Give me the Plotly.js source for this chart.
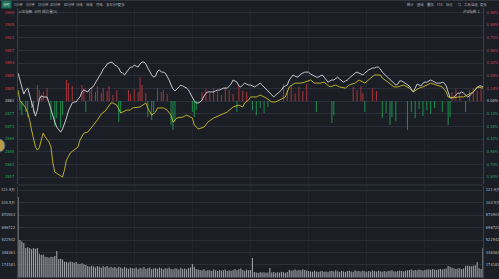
<!DOCTYPE html>
<html><head><meta charset="utf-8">
<script src="https://cdn.plot.ly/plotly-3.0.1.min.js"></script>
<style>html,body{margin:0;padding:0;background:#1b1e25;}#chart{width:499px;height:279px;}</style>
</head><body><div id="chart"></div>
<script>
// ---------- DATA ----------
const prevClose = 2881.0;
const minutes = Array.from({length: 241}, (_, i) => i);
const indexPrice = [
2889.9,2887.7,2885.1,2883.2,2884.5,2885.1,2882.9,2880.7,2878.8,2876.2,
2878.1,2881.6,2882.6,2882.3,2882.3,2882.3,2880.4,2878.1,2875.9,2874.3,
2872.7,2871.8,2871.1,2872.1,2873.7,2875.6,2877.8,2879.1,2880.4,2880.7,
2880.7,2881.6,2882.3,2883.9,2884.5,2884.2,2883.9,2884.8,2885.1,2885.8,
2886.7,2888.0,2888.9,2889.9,2891.2,2891.8,2892.8,2893.1,2893.4,2893.1,
2892.4,2892.1,2891.5,2890.2,2889.9,2889.3,2890.2,2891.2,2891.8,2891.8,
2892.4,2892.1,2891.8,2892.8,2893.4,2893.4,2892.8,2891.5,2890.2,2889.3,
2888.6,2888.9,2890.5,2890.9,2890.2,2890.2,2889.9,2888.9,2887.7,2886.1,
2884.8,2884.2,2884.8,2885.5,2886.1,2885.8,2885.5,2885.1,2884.5,2883.2,
2882.3,2881.0,2880.4,2880.4,2880.7,2881.3,2882.6,2883.5,2883.9,2883.9,
2883.9,2883.9,2884.2,2884.5,2884.5,2884.8,2885.1,2885.1,2885.1,2885.8,
2886.4,2887.7,2887.4,2887.0,2885.8,2885.5,2886.1,2886.7,2886.4,2886.1,
2886.1,
2885.8,2885.5,2885.8,2886.4,2886.7,2886.1,2885.5,2884.8,2884.2,
2883.5,2882.9,2882.3,2882.9,2883.5,2883.9,2884.5,2885.5,2885.8,2886.1,
2887.7,2888.6,2889.3,2888.9,2888.6,2888.9,2889.6,2889.9,2890.2,2890.2,
2890.2,2889.6,2889.3,2888.9,2888.6,2888.6,2888.9,2889.3,2888.6,2887.7,
2887.0,2887.4,2887.7,2887.7,2888.3,2888.6,2888.0,2887.4,2887.0,2887.4,
2887.7,2888.3,2888.9,2889.3,2889.9,2890.2,2889.9,2889.6,2889.3,2889.9,
2890.5,2890.9,2891.2,2891.5,2891.5,2891.8,2891.8,2891.2,2890.2,2889.6,
2888.9,2888.3,2887.7,2887.0,2886.4,2886.1,2886.4,2887.4,2887.4,2887.0,
2886.7,2886.4,2885.8,2884.8,2883.9,2885.1,2886.4,2886.1,2885.8,2886.7,
2887.0,2887.0,2887.4,2887.7,2887.4,2887.0,2886.7,2886.7,2886.7,2887.0,
2886.7,2885.8,2883.5,2882.0,2882.0,2882.3,2882.9,2883.5,2883.5,2883.9,
2883.5,2882.9,2882.3,2882.6,2883.2,2883.9,2884.5,2885.1,2885.8,2885.8,
2885.5];

const avgMin = [0,1,2,4,5,6,7,8,9,10,11,12,13,14,16,17,18,19,21,23,24,25,27,29,31,32,34,36,37,39,41,43,45,46,48,49,51,53,54,56,58,59,63,66,67,69,71,72,75,77,79,80,82,85,87,90,91,93,96,98,101,104,108,111,114,116,117,119,120,123,125,128,131,133,135,138,140,143,146,148,151,153,156,158,161,164,166,169,171,174,176,179,182,184,187,188,191,194,196,199,202,204,207,209,213,216,219,221,222,225,227,230,232,235,237,240];
const avgPrice = [2884.5,2881.0,2880.4,2878.8,2877.2,2875.0,2871.8,2868.6,2866.4,2865.4,2866.1,2868.6,2870.8,2869.6,2868.0,2866.4,2861.3,2858.4,2857.5,2856.8,2859.1,2862.2,2864.5,2865.4,2866.4,2868.6,2870.8,2871.1,2871.8,2873.4,2875.0,2876.9,2877.8,2878.8,2880.4,2880.4,2879.7,2877.2,2877.5,2878.1,2878.1,2878.8,2879.1,2880.4,2878.8,2876.5,2877.5,2878.8,2878.8,2878.1,2876.5,2874.3,2875.6,2875.9,2876.5,2875.6,2873.4,2872.1,2872.7,2874.3,2875.6,2876.5,2877.5,2879.1,2879.7,2879.1,2880.4,2881.3,2882.3,2882.3,2882.9,2882.0,2880.7,2880.7,2881.3,2882.3,2885.5,2886.7,2886.7,2887.0,2887.7,2886.7,2886.7,2887.0,2885.5,2886.1,2885.5,2885.1,2886.1,2886.7,2887.7,2886.7,2888.3,2889.3,2889.3,2888.3,2887.0,2885.5,2885.5,2886.1,2885.1,2883.9,2885.1,2885.5,2886.7,2886.1,2885.5,2883.9,2882.3,2882.0,2882.3,2882.3,2882.9,2883.9,2885.5,2885.1];

const upMin = [10,11,12,13,15,25,26,28,33,34,37,38,40,41,43,44,46,47,49,51,57,58,60,62,63,64,66,72,74,75,77,95,97,99,101,103,105,107,109,111,114,116,118,137,139,141,143,145,147,149,173,175,177,178,183,185,224,226,228,233,235,237,239];
const upVal = [5.1,3.5,1.9,2.9,4.1,6.7,5.7,4.8,5.1,4.1,3.5,4.5,2.9,4.8,2.5,4.1,3.2,4.8,1.9,3.5,3.5,2.2,3.8,2.9,7.6,5.1,2.5,4.1,2.9,3.5,2.2,2.9,3.8,2.5,4.1,3.2,1.9,4.5,3.5,2.2,4.8,3.2,2.9,5.4,3.5,5.1,2.5,4.5,3.2,5.4,4.5,3.5,4.8,2.5,4.1,3.2,2.9,3.8,2.5,3.5,4.1,3.2,3.8];
const downMin = [1,2,4,5,7,8,17,19,20,22,23,35,52,53,67,69,70,79,80,81,90,91,92,113,121,123,125,127,129,154,162,163,179,188,190,192,193,195,201,203,205,207,209,211,213,215,219,222,223,231];
const downVal = [-2.9,-4.5,-3.5,-5.1,-2.2,-3.8,-6.0,-8.0,-5.4,-8.6,-4.5,-3.5,-6.7,-3.8,-5.1,-6.0,-3.5,-7.6,-9.2,-6.7,-3.5,-5.1,-2.9,-3.5,-2.9,-4.5,-2.2,-3.8,-1.9,-3.5,-7.0,-4.5,-3.5,-5.4,-3.8,-7.6,-5.1,-6.4,-9.2,-3.5,-5.4,-2.5,-4.8,-2.9,-4.1,-2.2,-3.5,-7.6,-5.1,-3.5];

// volume per minute, thousands of lots
const volume = [
1122,523,500,481,411,420,411,395,411,400,
411,330,314,320,290,286,280,290,286,300,
369,258,262,250,220,216,210,222,216,205,
216,190,188,200,185,175,160,150,165,155,
140,160,150,135,155,145,160,140,150,135,
145,130,150,140,125,145,135,120,140,130,
125,140,115,135,125,145,120,130,140,115,
125,135,120,140,130,115,130,125,140,120,
115,130,125,110,135,120,125,115,130,140,
188,150,120,110,105,100,115,95,105,100,
95,110,100,90,105,95,100,110,90,100,
95,105,120,100,115,125,105,95,110,100,
105,
272,75,70,63,77,68,72,65,70,
132,70,75,65,72,68,80,74,66,78,
105,95,100,110,98,105,100,115,105,98,
90,85,80,95,82,78,88,92,80,85,
78,90,95,82,100,88,80,92,85,78,
90,95,85,80,100,88,92,82,95,86,
80,92,85,98,90,82,95,88,80,92,
85,90,95,100,88,85,92,98,90,86,
95,100,105,110,98,105,100,112,105,98,
105,110,115,108,120,110,105,115,120,112,
118,125,160,150,135,130,120,125,130,120,
125,160,165,160,158,162,170,216,130,120,
411];

const priceTickVals = [2856.82,2860.85,2864.88,2868.91,2872.94,2876.97,2881.00,2885.03,2889.06,2893.09,2897.12,2901.15,2905.18,2909.21];
const priceTickText = ["2857","2861","2865","2869","2873","2877","2881","2885","2889","2893","2897","2901","2905","2909"];
const pctTickText = ["0.84%","0.70%","0.56%","0.42%","0.28%","0.14%","0.00%","0.14%","0.28%","0.42%","0.56%","0.70%","0.84%","0.98%"];
const volTickVals = [174.18,348.36,522.54,696.72,870.90,1045.09,1219.27];
const volTickText = ["174181","348361","522542","696722","870903","104.5万","121.9万"];
const gridMinutes = [30,60,90,120,150,180,210];
const tabs = ['1分钟','5分钟','15分钟','30分钟','60分钟','日线','周线','月线','多日分时','更多'];
const rtabs = ['统计','画线','叠加','F10','标记','⇆','工具','自选','更多'];

// ---------- STYLE ----------
const RED = '#d0414a', GREEN = '#2aa35a', MID = '#c9c9c9';
function colorize(texts, vals){
  return texts.map((t,i)=>{
    const c = vals[i] > prevClose + 0.01 ? RED : (vals[i] < prevClose - 0.01 ? GREEN : MID);
    return '<span style="color:'+c+'">'+t+'</span>';
  });
}
const W = 499, H = 279;
const px = x => x / W, py = y => 1 - y / H;

const traces = [
  {type:'bar', x:upMin, y:upVal, base:prevClose, width:0.52, marker:{color:'#a8343c', line:{width:0}}, xaxis:'x', yaxis:'y'},
  {type:'bar', x:downMin, y:downVal, base:prevClose, width:0.52, marker:{color:'#1d8f4c', line:{width:0}}, xaxis:'x', yaxis:'y'},
  {type:'scatter', mode:'lines', x:minutes, y:indexPrice, line:{color:'#d8d9de', width:0.9}, xaxis:'x', yaxis:'y'},
  {type:'scatter', mode:'lines', x:avgMin, y:avgPrice, line:{color:'#c9bd2a', width:0.9}, xaxis:'x', yaxis:'y'},
  {type:'scatter', mode:'markers', x:[minutes[0]], y:[prevClose], marker:{opacity:0}, xaxis:'x', yaxis:'y3'},
  {type:'bar', x:minutes, y:volume, width:0.6, marker:{color:'#9a9ca3', line:{width:0}}, xaxis:'x', yaxis:'y2'},
  {type:'scatter', mode:'markers', x:[minutes[0]], y:[volume[0]], marker:{opacity:0}, xaxis:'x', yaxis:'y4'}
];

const tickFont = {family:'DejaVu Sans Condensed, DejaVu Sans, sans-serif', size:4, color:'#b9bcc4'};
const mainRange = [2854.6, 2910.6];
const volRange = [-21, 1275];
const gridC = '#2b2f39';

const layout = {
  width: W, height: H,
  margin:{l:0,r:0,t:0,b:0,pad:0},
  paper_bgcolor:'#1b1e25', plot_bgcolor:'#1b1e25',
  showlegend:false, barmode:'overlay', hovermode:false,
  xaxis:{domain:[18/W, 483/W], range:[0,240], tickvals:gridMinutes, showticklabels:false, ticks:'',
         showgrid:true, gridcolor:'#23262e', gridwidth:1, zeroline:false, showline:false, anchor:'y'},
  yaxis:{domain:[py(184), py(8)], range:mainRange, tickvals:priceTickVals, ticktext:colorize(priceTickText, priceTickVals),
         tickfont:tickFont, ticks:'', ticklabelstandoff:2, showgrid:true, gridcolor:gridC, zeroline:false,
         showline:true, linecolor:'#3a3e48', linewidth:1, anchor:'x'},
  yaxis3:{overlaying:'y', side:'right', range:mainRange, tickvals:priceTickVals, ticktext:colorize(pctTickText, priceTickVals),
         tickfont:tickFont, ticks:'', ticklabelstandoff:2, showgrid:false, zeroline:false,
         showline:true, linecolor:'#3a3e48', linewidth:1, anchor:'x'},
  yaxis2:{domain:[0, py(186)], range:volRange, tickvals:volTickVals, ticktext:volTickText,
         tickfont:tickFont, ticks:'', ticklabelstandoff:1, showgrid:true, gridcolor:gridC, zeroline:false,
         showline:true, linecolor:'#3a3e48', linewidth:1, anchor:'x'},
  yaxis4:{overlaying:'y2', side:'right', range:volRange, tickvals:volTickVals, ticktext:volTickText,
         tickfont:tickFont, ticks:'', ticklabelstandoff:1, showgrid:false, zeroline:false,
         showline:true, linecolor:'#3a3e48', linewidth:1, anchor:'x'},
  shapes:[
    {type:'line', xref:'paper', yref:'paper', x0:0, x1:1, y0:py(0.5), y1:py(0.5), line:{color:'#30343d', width:1}},
    {type:'line', xref:'paper', yref:'paper', x0:18/W, x1:483/W, y0:py(185), y1:py(185), line:{color:'#333742', width:1}},
    {type:'circle', xref:'paper', yref:'paper', x0:px(-6), x1:px(5), y0:py(152), y1:py(139), fillcolor:'#b89a45', line:{color:'#3f5a8a', width:1}}
  ],
  annotations:[]
};

const hdrFont = {family:'Noto Sans CJK SC, sans-serif', size:3.3, color:'#aeb2ba'};
function ann(text, x, y, opts){
  return Object.assign({text:text, xref:'paper', yref:'paper', x:px(x), y:py(y), xanchor:'left', yanchor:'middle',
    showarrow:false, font:hdrFont, borderpad:0}, opts||{});
}
layout.annotations.push(ann('分时', 1, 4, {bgcolor:'#1f6b57', borderpad:1, font:Object.assign({}, hdrFont, {color:'#e8f5ef'})}));
const tabX = [13,25,37,49,63,75,85,95,105,117];
tabs.forEach((t,i)=>layout.annotations.push(ann(t, tabX[i], 4)));
const rtabX = [406,416,426,436,445,457,463,470,479];
rtabs.forEach((t,i)=>layout.annotations.push(ann(t, rtabX[i], 4)));
layout.annotations.push(ann('上证指数', 17, 12, {font:Object.assign({}, hdrFont, {size:3.6})}));
layout.annotations.push(ann('分时 成交量(5)', 33, 12, {font:Object.assign({}, hdrFont, {size:3.6})}));
layout.annotations.push(ann('沪深指数 ↕', 462, 12));

Plotly.newPlot('chart', traces, layout, {staticPlot:true, displayModeBar:false});
</script></body></html>
